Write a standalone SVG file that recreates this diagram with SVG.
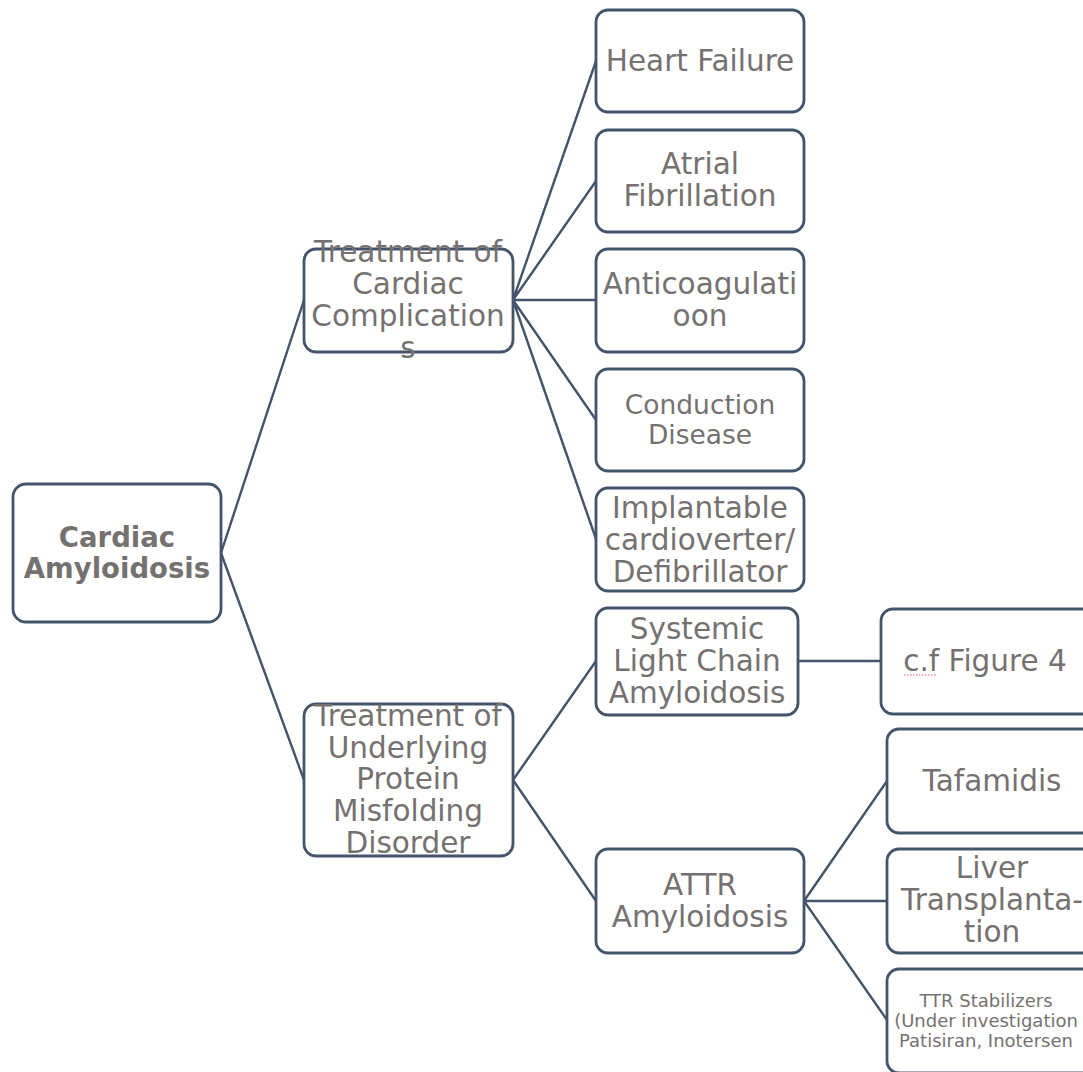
<svg xmlns="http://www.w3.org/2000/svg" width="1083" height="1072" viewBox="0 0 1083 1072">
<style>
.box{fill:#fff;stroke:#44546A;stroke-width:2.8}
.t{font-family:"DejaVu Sans","Noto Sans",sans-serif;fill:#767171;text-anchor:middle;font-size:29.5px}
.b{font-weight:bold;font-size:27.5px}
.c{stroke:#44546A;stroke-width:2.4;fill:none}
</style>
<rect width="1083" height="1072" fill="#fff"/>
<g id="connectors">
<path class="c" d="M221,553 L304,300 M221,553 L304,780"/>
<path class="c" d="M513,300 L596,61 M513,300 L596,181 M513,300 L596,300 M513,300 L596,420 M513,300 L596,539"/>
<path class="c" d="M513,780 L596,661 M513,780 L596,901"/>
<path class="c" d="M798,661 L881,661"/>
<path class="c" d="M804,901 L887,781 M804,901 L887,901 M804,901 L887,1020"/>
</g>
<g id="root"><rect class="box" x="13" y="484" width="208" height="138" rx="13"/>
<text class="t b" x="117" y="547">Cardiac</text><text class="t b" x="117" y="578">Amyloidosis</text></g>
<g id="cardiac-comp"><rect class="box" x="304" y="249" width="209" height="103" rx="12"/>
<text class="t" x="408" y="262">Treatment of</text><text class="t" x="408" y="294">Cardiac</text><text class="t" x="408" y="326">Complication</text><text class="t" x="408" y="358">s</text></g>
<g id="heart-failure"><rect class="box" x="596" y="10" width="208" height="102" rx="12"/>
<text class="t" x="700" y="71">Heart Failure</text></g>
<g id="atrial"><rect class="box" x="596" y="130" width="208" height="102" rx="12"/>
<text class="t" x="700" y="174">Atrial</text><text class="t" x="700" y="206">Fibrillation</text></g>
<g id="anticoag"><rect class="box" x="596" y="249" width="208" height="103" rx="12"/>
<text class="t" x="700" y="294">Anticoagulati</text><text class="t" x="700" y="326">oon</text></g>
<g id="conduction"><rect class="box" x="596" y="369" width="208" height="102" rx="12"/>
<text class="t" x="700" y="414" style="font-size:26.5px">Conduction</text><text class="t" x="700" y="444" style="font-size:26.5px">Disease</text></g>
<g id="icd"><rect class="box" x="596" y="488" width="208" height="103" rx="12"/>
<text class="t" x="700" y="518">Implantable</text><text class="t" x="700" y="550">cardioverter/</text><text class="t" x="700" y="582">Defibrillator</text></g>
<g id="underlying"><rect class="box" x="304" y="704" width="209" height="152" rx="12"/>
<text class="t" x="408" y="726">Treatment of</text><text class="t" x="408" y="758">Underlying</text><text class="t" x="408" y="789">Protein</text><text class="t" x="408" y="821">Misfolding</text><text class="t" x="408" y="853">Disorder</text></g>
<g id="systemic"><rect class="box" x="596" y="608" width="202" height="107" rx="12"/>
<text class="t" x="697" y="639">Systemic</text><text class="t" x="697" y="671">Light Chain</text><text class="t" x="697" y="703">Amyloidosis</text></g>
<g id="attr"><rect class="box" x="596" y="849" width="208" height="104" rx="12"/>
<text class="t" x="700" y="895">ATTR</text><text class="t" x="700" y="927">Amyloidosis</text></g>
<g id="cf"><rect class="box" x="881" y="609" width="215" height="105" rx="12"/>
<text class="t" x="985" y="671">c.f Figure 4</text>
<path d="M904,675 L936,675" stroke="#e06060" stroke-width="1" stroke-dasharray="1.5,1.5"/></g>
<g id="tafamidis"><rect class="box" x="887" y="729" width="210" height="104" rx="12"/>
<text class="t" x="992" y="791">Tafamidis</text></g>
<g id="liver"><rect class="box" x="887" y="849" width="210" height="104" rx="12"/>
<text class="t" x="992" y="878">Liver</text><text class="t" x="992" y="910">Transplanta-</text><text class="t" x="992" y="942">tion</text></g>
<g id="ttr"><rect class="box" x="887" y="969" width="210" height="104" rx="12"/>
<text class="t" x="986" y="1007" style="font-size:18px">TTR Stabilizers</text><text class="t" x="986" y="1027" style="font-size:18px">(Under investigation</text><text class="t" x="986" y="1047" style="font-size:18px">Patisiran, Inotersen</text></g>
</svg>
